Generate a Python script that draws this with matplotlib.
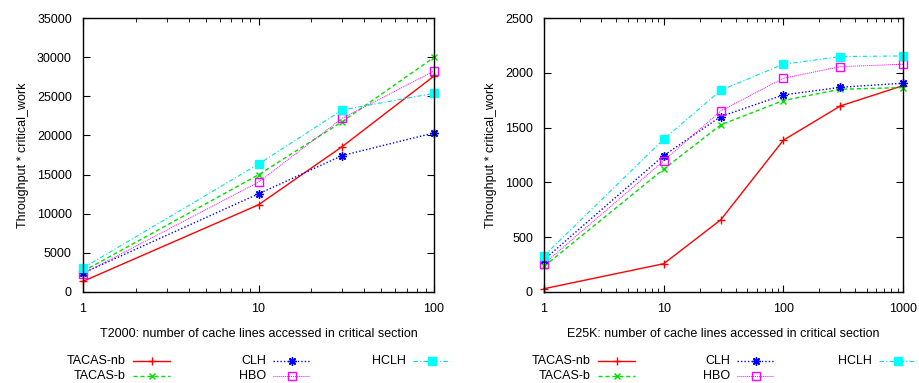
import matplotlib
matplotlib.use("Agg")
import matplotlib.pyplot as plt
from matplotlib.lines import Line2D

plt.rcParams['font.family'] = ['Liberation Sans', 'DejaVu Sans']
plt.rcParams['font.size'] = 9

# T2000 panel
x_t2000 = [1, 10, 30, 100]
t2000_tacas_nb = [1360, 11140, 18580, 27590]
t2000_tacas_b = [2640, 14970, 21770, 29970]
t2000_clh = [2420, 12540, 17430, 20320]
t2000_hbo = [2340, 14030, 22190, 28230]
t2000_hclh = [3060, 16330, 23260, 25380]

# E25K panel
x_e25k = [1, 10, 30, 100, 300, 1000]
e25k_tacas_nb = [30, 258, 659, 1385, 1698, 1883]
e25k_tacas_b = [234, 1121, 1525, 1747, 1850, 1865]
e25k_clh = [295, 1245, 1601, 1798, 1868, 1905]
e25k_hbo = [258, 1197, 1652, 1950, 2056, 2078]
e25k_hclh = [331, 1394, 1841, 2078, 2148, 2154]

labels = ['TACAS-nb', 'TACAS-b', 'CLH', 'HBO', 'HCLH']

# style per series: color, linestyle, marker, marker size, face/edge color
styles = [
    dict(color='#ff0000', ls='-', marker='+', ms=6, mfc='#ff0000', mec='#ff0000', lw=1.0),
    dict(color='#00e000', ls=(0, (3, 2)), marker='x', ms=5, mfc='#00e000', mec='#00e000', lw=1.0),
    dict(color='#0000ff', ls=(0, (1, 1.5)), marker=(8, 2, 0), ms=6, mfc='#0000ff', mec='#0000ff', lw=1.0),
    dict(color='#ff00ff', ls=(0, (1, 1)), marker='s', ms=5.5, mfc='none', mec='#ff00ff', lw=0.7),
    dict(color='#00e0e0', ls=(0, (4, 2, 1, 2)), marker='s', ms=5.5, mfc='#00ffff', mec='#00ffff', lw=0.8),
]


def draw_panel(ax, x, series, ymax, ystep, xlabel):
    for y, st in zip(series, styles):
        ax.plot(x, y, color=st['color'], linestyle=st['ls'], linewidth=st['lw'],
                marker=st['marker'], markersize=st['ms'], markerfacecolor=st['mfc'],
                markeredgecolor=st['mec'], markeredgewidth=1.0, clip_on=False)
    ax.set_xscale('log')
    ax.set_xlim(x[0], x[-1])
    ax.set_ylim(0, ymax)
    ax.set_yticks(range(0, ymax + 1, ystep))
    ticks = [v for v in [1, 10, 100, 1000] if v <= x[-1]]
    ax.set_xticks(ticks)
    ax.set_xticklabels([str(v) for v in ticks])
    ax.tick_params(which='both', direction='in', top=True, right=True)
    ax.tick_params(which='major', length=5, pad=8)
    ax.tick_params(which='minor', length=3)
    ax.set_xlabel(xlabel, labelpad=9)
    ax.set_ylabel('Throughput * critical_work', labelpad=6)
    for s in ax.spines.values():
        s.set_linewidth(1.0)


fig = plt.figure(figsize=(9.19, 3.83), dpi=100)
ax1 = fig.add_axes([0.0903, 0.2376, 0.382, 0.7154])
ax2 = fig.add_axes([0.592, 0.2376, 0.3906, 0.7154])

draw_panel(ax1, x_t2000, [t2000_tacas_nb, t2000_tacas_b, t2000_clh, t2000_hbo, t2000_hclh],
           35000, 5000, 'T2000: number of cache lines accessed in critical section')
draw_panel(ax2, x_e25k, [e25k_tacas_nb, e25k_tacas_b, e25k_clh, e25k_hbo, e25k_hclh],
           2500, 500, 'E25K: number of cache lines accessed in critical section')

# gnuplot-style keys below each panel (label right-aligned, sample to the right)
W, H = 919.0, 383.0
key_cols = [
    [(126, 0), (126, 1), (266, 2), (266, 3), (406, 4)],
    [(591, 0), (591, 1), (730, 2), (730, 3), (872, 4)],
]
row_y = [361, 376]
for col in key_cols:
    for xr, i in col:
        yy = row_y[0] if i in (0, 2, 4) else row_y[1]
        st = styles[i]
        fig.text(xr / W, 1 - yy / H, labels[i], ha='right', va='center', fontsize=9)
        x0, x1 = (xr + 7) / W, (xr + 44) / W
        fig.add_artist(Line2D([x0, x1], [1 - yy / H] * 2, transform=fig.transFigure,
                              color=st['color'], linestyle=st['ls'], linewidth=st['lw']))
        fig.add_artist(Line2D([(x0 + x1) / 2], [1 - yy / H], transform=fig.transFigure,
                              color=st['color'], marker=st['marker'], markersize=st['ms'],
                              markerfacecolor=st['mfc'], markeredgewidth=1.0,
                              markeredgecolor=st['mec']))

fig.savefig('out.png', dpi=100)
